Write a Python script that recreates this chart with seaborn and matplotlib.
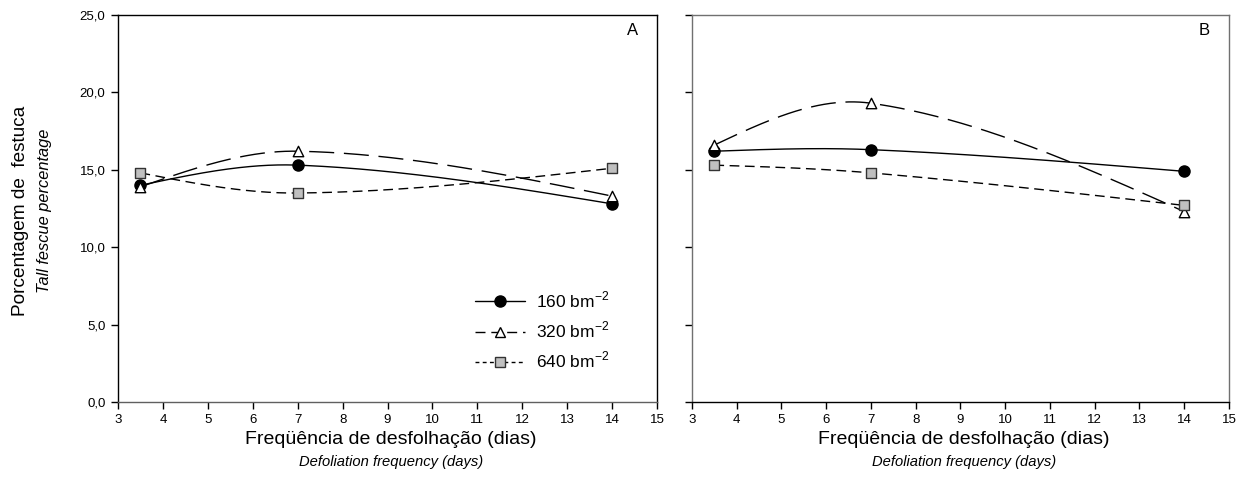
import numpy as np
import pandas as pd
import matplotlib
matplotlib.use("Agg")
import matplotlib.pyplot as plt
from matplotlib.lines import Line2D
from matplotlib.ticker import FuncFormatter
import seaborn as sns

# Defoliation frequency (days) and tall fescue percentage per plant density
days = [3.5, 7, 14]
densities = ["160", "320", "640"]
panel_a = {
    "160": [14.0, 15.3, 12.8],
    "320": [13.9, 16.2, 13.3],
    "640": [14.8, 13.5, 15.1],
}
panel_b = {
    "160": [16.2, 16.3, 14.9],
    "320": [16.6, 19.3, 12.3],
    "640": [15.3, 14.8, 12.7],
}
x_ticks = list(range(3, 16))
y_ticks = [0, 5, 10, 15, 20, 25]

sns.set_style("ticks")
plt.rcParams["font.family"] = ["Liberation Sans", "DejaVu Sans"]
plt.rcParams["text.color"] = "black"
plt.rcParams["axes.labelcolor"] = "black"

styles = {
    "160": dict(marker="o", mfc="black", mec="black", dashes=None, ms=8),
    "320": dict(marker="^", mfc="white", mec="black", dashes=(18, 7), ms=7.5),
    "640": dict(marker="s", mfc="#c0c0c0", mec="#333333", dashes=(7, 4), ms=6.5),
}

XLIM = (3, 15)
YLIM = (0, 25)


def smooth_curve(xv, yv, per_seg=150):
    """Cubic Hermite curve: inner tangents from neighbouring points,
    end tangents chosen for zero curvature at the ends."""
    x = np.asarray(xv, float)
    y = np.asarray(yv, float)
    n = len(x)
    d = np.diff(y) / np.diff(x)
    m = np.zeros(n)
    for i in range(1, n - 1):
        m[i] = (y[i + 1] - y[i - 1]) / (x[i + 1] - x[i - 1])
    m[0] = (3 * d[0] - m[1]) / 2
    m[-1] = (3 * d[-1] - m[-2]) / 2
    xs, ys = [], []
    for i in range(n - 1):
        h = x[i + 1] - x[i]
        t = np.linspace(0, 1, per_seg, endpoint=(i == n - 2))
        h00 = 2 * t ** 3 - 3 * t ** 2 + 1
        h10 = t ** 3 - 2 * t ** 2 + t
        h01 = -2 * t ** 3 + 3 * t ** 2
        h11 = t ** 3 - t ** 2
        xs.append(x[i] + t * h)
        ys.append(h00 * y[i] + h10 * h * m[i] + h01 * y[i + 1] + h11 * h * m[i + 1])
    return np.concatenate(xs), np.concatenate(ys)


fig = plt.figure(figsize=(12.41, 5.03), dpi=100)
ax_a = fig.add_axes([0.0951, 0.2008, 0.4343, 0.7694])
ax_b = fig.add_axes([0.5576, 0.2008, 0.4327, 0.7694])


def draw_panel(ax, data, tag, show_ylabels):
    for d in densities:
        st = styles[d]
        xs, ys = smooth_curve(days, data[d])
        fit = pd.DataFrame({"x": xs, "y": ys})
        line_kw = dict(color="black", lw=1.0, sort=False, estimator=None)
        if st["dashes"] is not None:
            line_kw["dashes"] = st["dashes"]
        sns.lineplot(data=fit, x="x", y="y", ax=ax, **line_kw)
        pts = pd.DataFrame({"x": days, "y": data[d]})
        sns.scatterplot(data=pts, x="x", y="y", ax=ax, marker=st["marker"],
                        color=st["mfc"], edgecolor=st["mec"], linewidth=1.0,
                        s=st["ms"] ** 2, zorder=5)
    ax.set_xlim(*XLIM)
    ax.set_ylim(*YLIM)
    ax.set_xticks(x_ticks)
    ax.set_yticks(y_ticks)
    ax.yaxis.set_major_formatter(FuncFormatter(lambda v, p: f"{v:.1f}".replace(".", ",")))
    ax.set_xlabel("")
    ax.set_ylabel("")
    ax.tick_params(direction="out", length=5, width=1, labelsize=9.5, colors="black", pad=4)
    if not show_ylabels:
        ax.tick_params(axis="y", labelleft=False)
    ax.text(0.954, 0.96, tag, transform=ax.transAxes, ha="center", va="center", fontsize=12)
    for s in ax.spines.values():
        s.set_visible(True)
        s.set_linewidth(1.0)


draw_panel(ax_a, panel_a, "A", True)
draw_panel(ax_b, panel_b, "B", False)

for s in ["left", "top", "right"]:
    ax_a.spines[s].set_color("black")
    ax_b.spines[s].set_color("#707070")
ax_a.spines["bottom"].set_color("#606060")
ax_b.spines["bottom"].set_color("black")

# Legend in panel A
handles = []
labels = []
for d in densities:
    st = styles[d]
    kw = dict(color="black", lw=1.0, marker=st["marker"], markerfacecolor=st["mfc"],
              markeredgecolor=st["mec"], markersize=st["ms"])
    h = Line2D([], [], **kw)
    if st["dashes"] is not None:
        h.set_dashes((st["dashes"][0] * 0.4, st["dashes"][1] * 0.6))
    handles.append(h)
    labels.append(d + r" bm$^{\mathregular{-2}}$")
ax_a.legend(handles, labels, loc="center left", bbox_to_anchor=(0.662, 0.185),
            frameon=False, fontsize=12.5, handlelength=2.9, handletextpad=0.6,
            labelspacing=0.55, borderpad=0, borderaxespad=0)

# Axis titles
fig.text(0.0165, 0.58, "Porcentagem de  festuca", rotation=90, ha="center", va="center", fontsize=13.7)
fig.text(0.0355, 0.58, "Tall fescue percentage", rotation=90, ha="center", va="center",
         fontsize=11.8, style="italic")
for ax in (ax_a, ax_b):
    pos = ax.get_position()
    cx = pos.x0 + pos.width / 2 + 0.003
    fig.text(cx, 1 - 440 / 503, "Freqüência de desfolhação (dias)", ha="center", va="center", fontsize=14)
    fig.text(cx, 1 - 462 / 503, "Defoliation frequency (days)", ha="center", va="center",
             fontsize=10.6, style="italic")

fig.savefig("out.png", dpi=100)
